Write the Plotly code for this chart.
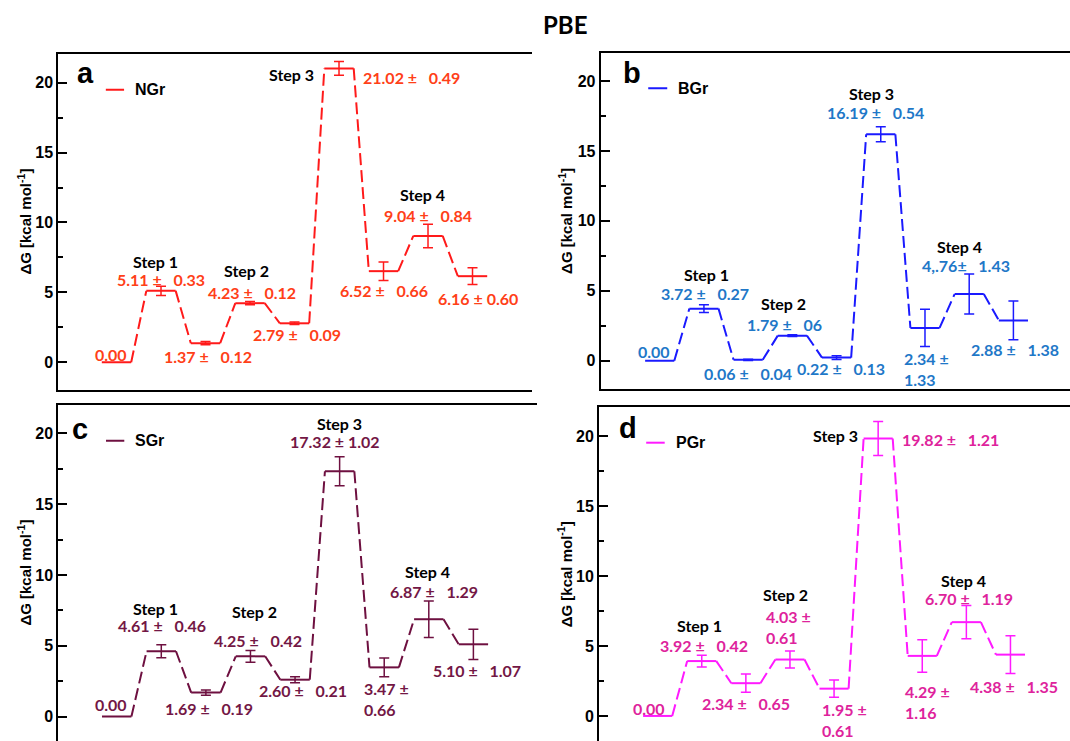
import plotly.graph_objects as go

# Free-energy profiles (kcal/mol) along the reaction coordinate: 9 states per catalyst
G = " ±\u00a0\u00a0 "  # wide gap after the plus-minus sign
ngr_vals = [0.00, 5.11, 1.37, 4.23, 2.79, 21.02, 6.52, 9.04, 6.16]
ngr_err = [0.0, 0.33, 0.12, 0.12, 0.09, 0.49, 0.66, 0.84, 0.60]
ngr_text = ["0.00", "5.11" + G + "0.33", "1.37" + G + "0.12", "4.23" + G + "0.12",
            "2.79" + G + "0.09", "21.02" + G + "0.49", "6.52" + G + "0.66",
            "9.04" + G + "0.84", "6.16 ± 0.60"]

bgr_vals = [0.00, 3.72, 0.06, 1.79, 0.22, 16.19, 2.34, 4.76, 2.88]
bgr_err = [0.0, 0.27, 0.04, 0.06, 0.13, 0.54, 1.33, 1.43, 1.38]
bgr_text = ["0.00", "3.72" + G + "0.27", "0.06" + G + "0.04", "1.79" + G + "06",
            "0.22" + G + "0.13", "16.19" + G + "0.54", "2.34 ±<br>1.33",
            "4,.76±\u00a0\u00a0 1.43", "2.88" + G + "1.38"]

sgr_vals = [0.00, 4.61, 1.69, 4.25, 2.60, 17.32, 3.47, 6.87, 5.10]
sgr_err = [0.0, 0.46, 0.19, 0.42, 0.21, 1.02, 0.66, 1.29, 1.07]
sgr_text = ["0.00", "4.61" + G + "0.46", "1.69" + G + "0.19", "4.25" + G + "0.42",
            "2.60" + G + "0.21", "17.32 ± 1.02", "3.47 ±<br>0.66",
            "6.87" + G + "1.29", "5.10" + G + "1.07"]

pgr_vals = [0.00, 3.92, 2.34, 4.03, 1.95, 19.82, 4.29, 6.70, 4.38]
pgr_err = [0.0, 0.42, 0.65, 0.61, 0.61, 1.21, 1.16, 1.19, 1.35]
pgr_text = ["0.00", "3.92" + G + "0.42", "2.34" + G + "0.65", "4.03 ±<br>0.61",
            "1.95 ±<br>0.61", "19.82" + G + "1.21", "4.29 ±<br>1.16",
            "6.70" + G + "1.19", "4.38" + G + "1.35"]

step_names = ["Step 1", "Step 2", "Step 3", "Step 4"]
y_ticks = [0, 5, 10, 15, 20]

W, H = 1070, 741
HALF = 0.33  # half width of a level plateau, in state units


def fx(px):
    return px / W


def fy(py):
    return 1 - py / H


# Placement of the value labels (x, y, xanchor) and the step labels (x, y)
panels = [
    dict(name="NGr", letter="a", vals=ngr_vals, errs=ngr_err, text=ngr_text,
         line="#ff1a1a", label="#ff4018",
         xdom=(58.3, 531.7), ydom=(54, 390), xr=(-1.308, 9.33), yr=(-1.98, 22.05),
         top_only=False, right_line=True,
         vpos=[(-0.12, 0.57, "center"), (1.01, 5.9, "center"), (2.06, 0.40, "center"),
               (3.04, 4.97, "center"), (4.05, 1.97, "center"), (6.64, 20.4, "center"),
               (6.02, 5.16, "center"), (6.99, 10.47, "center"), (8.12, 4.57, "center")],
         spos=[(0.875, 7.19), (2.93, 6.59), (3.94, 20.57), (6.88, 12.0)],
         letpos=(-0.93, 20.7), legpos=(-0.24, 0.17, 19.5)),
    dict(name="BGr", letter="b", vals=bgr_vals, errs=bgr_err, text=bgr_text,
         line="#1a1aff", label="#1f78c8",
         xdom=(600.7, 1070), ydom=(53.3, 388.5), xr=(-1.335, 9.28), yr=(-1.99, 21.98),
         top_only=False, right_line=False,
         vpos=[(-0.12, 0.64, "center"), (1.02, 4.77, "center"), (1.99, -0.9, "center"),
               (2.82, 2.6, "center"), (4.11, -0.55, "center"), (4.88, 17.75, "center"),
               (6.03, -0.58, "center"), (6.93, 6.78, "center"), (8.04, 0.82, "center")],
         spos=[(1.05, 6.18), (2.81, 4.11), (4.80, 19.14), (6.79, 8.16)],
         letpos=(-0.88, 20.57), legpos=(-0.26, 0.17, 19.48)),
    dict(name="SGr", letter="c", vals=sgr_vals, errs=sgr_err, text=sgr_text,
         line="#6e1040", label="#731745",
         xdom=(58.3, 536.7), ydom=(405, 741), xr=(-1.31, 9.42), yr=(-1.73, 22.0),
         top_only=True, right_line=True,
         vpos=[(-0.12, 0.88, "center"), (1.02, 6.46, "center"), (2.07, 0.58, "center"),
               (3.17, 5.4, "center"), (4.17, 1.87, "center"), (4.9, 19.4, "center"),
               (5.51, 1.27, "left"), (7.11, 8.86, "center"), (8.09, 3.28, "center")],
         spos=[(0.87, 7.64), (3.09, 7.4), (5.0, 20.7), (6.97, 10.27)],
         letpos=(-1.05, 20.3), legpos=(-0.24, 0.17, 19.48)),
    dict(name="PGr", letter="d", vals=pgr_vals, errs=pgr_err, text=pgr_text,
         line="#ff1aff", label="#de239c",
         xdom=(599, 1070), ydom=(407, 741), xr=(-1.33, 9.35), yr=(-1.79, 22.07),
         top_only=True, right_line=False,
         vpos=[(-0.2, 0.55, "center"), (1.06, 5.0, "center"), (2.01, 0.9, "center"),
               (2.4, 6.38, "left"), (3.69, -0.29, "left"), (6.65, 19.76, "center"),
               (5.57, 1.02, "left"), (7.05, 8.36, "center"), (8.07, 2.09, "center")],
         spos=[(0.96, 6.43), (2.9, 8.71), (4.04, 20.0), (6.94, 9.67)],
         letpos=(-0.92, 20.57), legpos=(-0.26, 0.16, 19.52)),
]

fig = go.Figure()
annotations = []
shapes = []
layout = {}

label_font = dict(family="Lato", size=16, weight="bold")

for i, p in enumerate(panels):
    n = i + 1
    suffix = "" if n == 1 else str(n)
    xa, ya = "x" + suffix, "y" + suffix
    vals, errs = p["vals"], p["errs"]
    states = list(range(len(vals)))

    # Plateaus (solid)
    lx, ly = [], []
    for k, v in zip(states, vals):
        lx += [k - HALF, k + HALF, None]
        ly += [v, v, None]
    fig.add_trace(go.Scatter(x=lx, y=ly, mode="lines", xaxis=xa, yaxis=ya,
                             line=dict(color=p["line"], width=2), hoverinfo="skip"))

    # Connectors between consecutive states (dashed)
    cx, cy = [], []
    for k in states[:-1]:
        cx += [k + HALF, k + 1 - HALF, None]
        cy += [vals[k], vals[k + 1], None]
    fig.add_trace(go.Scatter(x=cx, y=cy, mode="lines", xaxis=xa, yaxis=ya,
                             line=dict(color=p["line"], width=2, dash="12px,5px"),
                             hoverinfo="skip"))

    # Error bars on every state after the reference state
    fig.add_trace(go.Scatter(x=states[1:], y=vals[1:], mode="markers", xaxis=xa, yaxis=ya,
                             marker=dict(size=1, color=p["line"]),
                             error_y=dict(type="data", array=errs[1:], visible=True,
                                          color=p["line"], thickness=1.5, width=5),
                             hoverinfo="skip"))

    xdom = [fx(p["xdom"][0]), fx(p["xdom"][1])]
    ydom = [fy(p["ydom"][1]), fy(p["ydom"][0])]

    layout["xaxis" + suffix] = dict(domain=xdom, range=list(p["xr"]), anchor=ya,
                                    showgrid=False, zeroline=False, showticklabels=False,
                                    ticks="", showline=True, linecolor="black", linewidth=2,
                                    mirror=not p["top_only"],
                                    side="top" if p["top_only"] else "bottom",
                                    fixedrange=True)
    tick_common = dict(range=list(p["yr"]), anchor=xa, showgrid=False, zeroline=False,
                       linecolor="black", linewidth=2,
                       ticks="inside", ticklen=9, tickwidth=1.8, tickcolor="black",
                       tickmode="array", tickvals=y_ticks,
                       minor=dict(ticks="inside", ticklen=5, tickwidth=1.5,
                                  tickcolor="black", dtick=2.5, tick0=0),
                       fixedrange=True)
    layout["yaxis" + suffix] = dict(domain=ydom, showline=True, mirror=False,
                                    tickfont=dict(family="Liberation Sans", size=16,
                                                  color="black", weight="bold"),
                                    **tick_common)
    layout[f"yaxis{n + 4}"] = dict(overlaying=ya, side="right", showline=p["right_line"],
                                   showticklabels=False, **tick_common)

    # Value labels
    for t, (x, y, anc) in zip(p["text"], p["vpos"]):
        annotations.append(dict(x=x, y=y, xref=xa, yref=ya, text=t, showarrow=False,
                                xanchor=anc, yanchor="middle", align="left",
                                font=dict(color=p["label"], **label_font)))
    # Step labels
    for t, (x, y) in zip(step_names, p["spos"]):
        annotations.append(dict(x=x, y=y, xref=xa, yref=ya, text=t, showarrow=False,
                                xanchor="center", yanchor="middle",
                                font=dict(color="black", **label_font)))
    # Panel letter
    annotations.append(dict(x=p["letpos"][0], y=p["letpos"][1], xref=xa, yref=ya,
                            text=p["letter"], showarrow=False, xanchor="left",
                            yanchor="middle",
                            font=dict(family="Liberation Sans", size=29, color="black",
                                      weight="bold")))
    # Legend entry
    lx0, lx1, ly0 = p["legpos"]
    shapes.append(dict(type="line", xref=xa, yref=ya, x0=lx0, x1=lx1, y0=ly0, y1=ly0,
                       line=dict(color=p["line"], width=2)))
    annotations.append(dict(x=lx1 + 0.2, y=ly0, xref=xa, yref=ya, text=p["name"],
                            showarrow=False, xanchor="left", yanchor="middle",
                            font=dict(family="Liberation Sans", size=16, color="black",
                                      weight="bold")))
    # Axis title, centred on the visible part of the panel
    plot_w = p["xdom"][1] - p["xdom"][0]
    annotations.append(dict(x=-34.7 / plot_w, y=0.5,
                            xref=xa + " domain", yref=ya + " domain",
                            text="ΔG [kcal mol<sup>-1</sup>]", showarrow=False,
                            textangle=-90, xanchor="center", yanchor="middle",
                            font=dict(family="Liberation Sans", size=15, color="black",
                                      weight="bold")))

annotations.append(dict(x=fx(565), y=fy(25), xref="paper", yref="paper", text="PBE",
                        showarrow=False, xanchor="center", yanchor="middle",
                        font=dict(family="Lato", size=24, color="black", weight="bold")))

fig.update_layout(width=W, height=H, margin=dict(l=0, r=0, t=0, b=0),
                  paper_bgcolor="white", plot_bgcolor="white", showlegend=False,
                  annotations=annotations, shapes=shapes, **layout)

fig.write_html("out.html")
